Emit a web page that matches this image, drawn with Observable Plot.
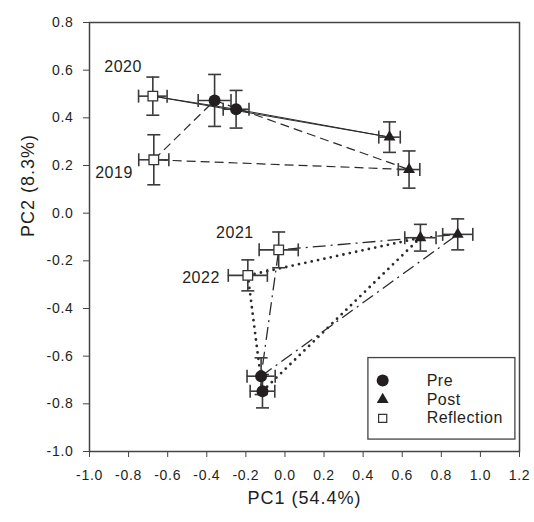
<!DOCTYPE html>
<html><head><meta charset="utf-8">
<script src="https://cdn.jsdelivr.net/npm/d3@7"></script>
<script src="https://cdn.jsdelivr.net/npm/@observablehq/plot@0.6"></script>
<style>
body{margin:0;background:#fff;}
#chart svg{font-family:"Liberation Sans",Arial,sans-serif;}
</style></head><body><div id="chart"></div><script>
// ---- data ----
const years = ["2019", "2020", "2021", "2022"];
const groups = ["Pre", "Post", "Reflection"];
const prePC1 = [-0.360, -0.250, -0.122, -0.115];
const prePC2 = [0.473, 0.436, -0.684, -0.747];
const preErrPC1 = [0.084, 0.066, 0.072, 0.063];
const preErrPC2 = [0.109, 0.079, 0.077, 0.070];
const postPC1 = [0.635, 0.535, 0.884, 0.693];
const postPC2 = [0.183, 0.319, -0.089, -0.103];
const postErrPC1 = [0.055, 0.055, 0.077, 0.080];
const postErrPC2 = [0.078, 0.064, 0.065, 0.056];
const reflPC1 = [-0.671, -0.676, -0.032, -0.190];
const reflPC2 = [0.224, 0.491, -0.154, -0.261];
const reflErrPC1 = [0.077, 0.073, 0.100, 0.100];
const reflErrPC2 = [0.105, 0.080, 0.075, 0.065];
const xTicks = [-1.0, -0.8, -0.6, -0.4, -0.2, 0.0, 0.2, 0.4, 0.6, 0.8, 1.0, 1.2];
const yTicks = [-1.0, -0.8, -0.6, -0.4, -0.2, 0.0, 0.2, 0.4, 0.6, 0.8];
const xLabel = "PC1 (54.4%)";
const yLabel = "PC2 (8.3%)";

// ---- build table ----
const src = {
  Pre: [prePC1, prePC2, preErrPC1, preErrPC2],
  Post: [postPC1, postPC2, postErrPC1, postErrPC2],
  Reflection: [reflPC1, reflPC2, reflErrPC1, reflErrPC2]
};
const points = [];
groups.forEach(g => years.forEach((yr, i) => {
  const [a, b, ea, eb] = src[g];
  points.push({group: g, year: yr, x: a[i], y: b[i], ex: ea[i], ey: eb[i]});
}));
const get = (g, yr) => points.find(p => p.group === g && p.year === yr);

// ---- styles ----
const lineStyle = {
  "2019": {dash: "9,5", w: 1.2, cap: "butt"},
  "2020": {dash: null, w: 1.0, cap: "butt"},
  "2021": {dash: "13,5,2,5", w: 1.3, cap: "butt"},
  "2022": {dash: "0,6.5", w: 2.8, cap: "round"}
};
const labelOffset = {
  "2019": {dx: -21, dy: 13},
  "2020": {dx: -11, dy: -29},
  "2021": {dx: -25, dy: -17},
  "2022": {dx: -28, dy: 3}
};
const ink = "#231f20";
const barColor = "#3a3a3a";
const capHalf = 6.5;
const hCap = {draw(ctx, size) { ctx.moveTo(-capHalf, 0); ctx.lineTo(capHalf, 0); }};
const vCap = {draw(ctx, size) { ctx.moveTo(0, -capHalf); ctx.lineTo(0, capHalf); }};

const marks = [];
years.forEach(yr => {
  const s = lineStyle[yr];
  const path = [get("Pre", yr), get("Post", yr), get("Reflection", yr), get("Pre", yr)];
  marks.push(Plot.line(path, {x: "x", y: "y", stroke: "#2a2a2a", strokeWidth: s.w,
    strokeDasharray: s.dash, strokeLinecap: s.cap, curve: "linear"}));
});
// error bars
marks.push(Plot.ruleX(points, {x: "x", y1: d => d.y - d.ey, y2: d => d.y + d.ey, stroke: barColor, strokeWidth: 1.6}));
marks.push(Plot.ruleY(points, {y: "y", x1: d => d.x - d.ex, x2: d => d.x + d.ex, stroke: barColor, strokeWidth: 1.6}));
marks.push(Plot.dot(points, {x: "x", y: d => d.y + d.ey, symbol: hCap, stroke: barColor, strokeWidth: 1.6, fill: "none"}));
marks.push(Plot.dot(points, {x: "x", y: d => d.y - d.ey, symbol: hCap, stroke: barColor, strokeWidth: 1.6, fill: "none"}));
marks.push(Plot.dot(points, {x: d => d.x + d.ex, y: "y", symbol: vCap, stroke: barColor, strokeWidth: 1.6, fill: "none"}));
marks.push(Plot.dot(points, {x: d => d.x - d.ex, y: "y", symbol: vCap, stroke: barColor, strokeWidth: 1.6, fill: "none"}));
// markers
marks.push(Plot.dot(points.filter(d => d.group === "Pre"), {x: "x", y: "y", symbol: "circle", r: 6, fill: ink, stroke: "none"}));
marks.push(Plot.dot(points.filter(d => d.group === "Post"), {x: "x", y: "y", symbol: "triangle", r: 4.4, fill: ink, stroke: "none"}));
marks.push(Plot.dot(points.filter(d => d.group === "Reflection"), {x: "x", y: "y", symbol: "square", r: 5.4, fill: "white", stroke: "#333", strokeWidth: 1.3}));
// year labels
years.forEach(yr => {
  const o = labelOffset[yr];
  marks.push(Plot.text([get("Reflection", yr)], {x: "x", y: "y", text: d => d.year, textAnchor: "end",
    dx: o.dx, dy: o.dy, fontSize: 16, fill: "#231f20"}));
});
// legend (placed in data units inside the frame)
const legendBox = {x1: 0.427, x2: 1.179, y1: -0.608, y2: -0.950};
const legendRows = [
  {label: "Pre", y: -0.702},
  {label: "Post", y: -0.782},
  {label: "Reflection", y: -0.861}
];
const legendSymX = 0.500, legendTextX = 0.725;
marks.push(Plot.rect([legendBox], {x1: "x1", x2: "x2", y1: "y1", y2: "y2", fill: "white", stroke: "#444", strokeWidth: 1.3}));
marks.push(Plot.dot([legendRows[0]], {x: () => legendSymX, y: "y", symbol: "circle", r: 6, fill: ink}));
marks.push(Plot.dot([legendRows[1]], {x: () => legendSymX, y: "y", symbol: "triangle", r: 4.4, fill: ink}));
marks.push(Plot.dot([legendRows[2]], {x: () => legendSymX, y: "y", symbol: "square", r: 4.6, fill: "white", stroke: "#333", strokeWidth: 1.2}));
marks.push(Plot.text(legendRows, {x: () => legendTextX, y: "y", text: "label", textAnchor: "start", fontSize: 16, fill: "#231f20"}));

const fmt = d => (Math.abs(d) < 1e-9 ? 0 : d).toFixed(1);
marks.push(Plot.axisX({ticks: xTicks, tickFormat: fmt, tickSize: 6, tickPadding: 13, fontSize: 14,
  label: null, stroke: "#444"}));
marks.push(Plot.axisY({ticks: yTicks, tickFormat: fmt, tickSize: 6, tickPadding: 10, fontSize: 14,
  label: null, stroke: "#444"}));
// axis titles
marks.push(Plot.text([xLabel], {text: d => d, frameAnchor: "bottom", dy: 52, fontSize: 18, fill: "#231f20", className: "axis-title"}));
marks.push(Plot.text([yLabel], {text: d => d, frameAnchor: "left", rotate: -90, dx: -61, fontSize: 18, fill: "#231f20", className: "axis-title"}));
marks.push(Plot.frame({stroke: "#444", strokeWidth: 1.5}));

const chart = Plot.plot({
  width: 534, height: 522,
  marginLeft: 89, marginRight: 15, marginTop: 22, marginBottom: 71,
  x: {domain: [-1.0, 1.2]},
  y: {domain: [-1.0, 0.8]},
  style: {background: "white", color: "#231f20", fontFamily: "'Liberation Sans', Arial, sans-serif"},
  marks
});
document.getElementById("chart").appendChild(chart);
const svg = d3.select(chart);
svg.selectAll('[aria-label="x-axis tick label"] text, [aria-label="y-axis tick label"] text').style("letter-spacing", "0.7px");
svg.selectAll('[aria-label="text"] text').style("letter-spacing", "0.5px");
svg.selectAll('.axis-title text').style("letter-spacing", "1px");
</script></body></html>
